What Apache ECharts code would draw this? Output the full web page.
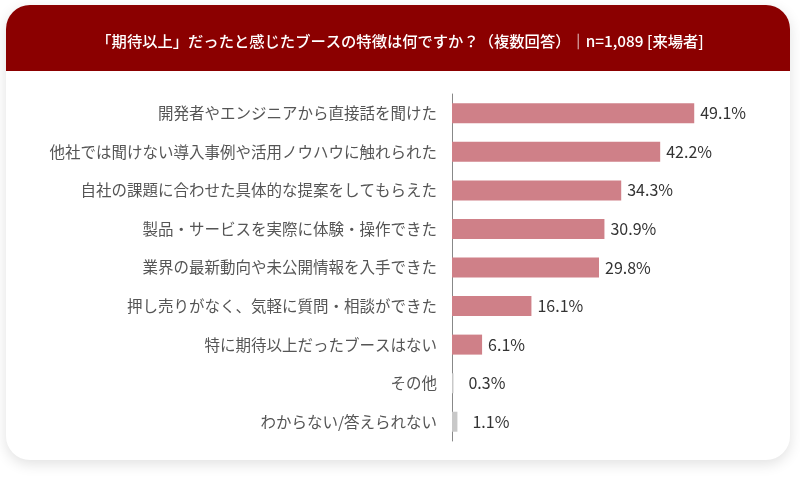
<!DOCTYPE html>
<html><head><meta charset="utf-8">
<script src="https://cdn.jsdelivr.net/npm/echarts@6/dist/echarts.min.js"></script>
<style>html,body{margin:0;padding:0;background:#fff}#c{width:800px;height:479px}</style>
</head><body><div id="c"></div>
<script>
const titleText = '「期待以上」だったと感じたブースの特徴は何ですか？（複数回答）｜n=1,089 [来場者]';
const categories = [
  '開発者やエンジニアから直接話を聞けた',
  '他社では聞けない導入事例や活用ノウハウに触れられた',
  '自社の課題に合わせた具体的な提案をしてもらえた',
  '製品・サービスを実際に体験・操作できた',
  '業界の最新動向や未公開情報を入手できた',
  '押し売りがなく、気軽に質問・相談ができた',
  '特に期待以上だったブースはない',
  'その他',
  'わからない/答えられない'
];
const values = [49.1, 42.2, 34.3, 30.9, 29.8, 16.1, 6.1, 0.3, 1.1];
const barColors = ['#cf8088','#cf8088','#cf8088','#cf8088','#cf8088','#cf8088','#cf8088','#c8c8c8','#c8c8c8'];

const FONT = '"Noto Sans CJK JP", "Noto Sans", sans-serif';
const chart = echarts.init(document.getElementById('c'));
chart.setOption({
  animation: false,
  textStyle: { fontFamily: FONT },
  graphic: [
    { type: 'rect', z: -10, shape: { x: 6, y: 5, width: 784, height: 455, r: 24 },
      style: { fill: '#fff', shadowBlur: 14, shadowColor: 'rgba(0,0,0,0.12)', shadowOffsetY: 4 } },
    { type: 'rect', z: -9, shape: { x: 6, y: 5, width: 784, height: 66, r: [24, 24, 0, 0] },
      style: { fill: '#8b0000' } }
  ],
  title: {
    text: titleText, left: 'center', top: 29,
    textStyle: { color: '#fff', fontSize: 15.3, fontWeight: 500, fontFamily: FONT }
  },
  grid: { left: 452, top: 94, width: 296, height: 347, containLabel: false },
  xAxis: { type: 'value', min: 0, max: 60, show: false },
  yAxis: {
    type: 'category', data: categories, inverse: true,
    axisLine: { show: true, lineStyle: { color: '#888', width: 1 } },
    axisTick: { show: false },
    axisLabel: { color: '#555', fontSize: 15.5, margin: 15, fontFamily: FONT }
  },
  series: [{
    type: 'bar', barWidth: 20,
    data: values.map((v, i) => ({
      value: v, itemStyle: { color: barColors[i] },
      label: { distance: v < 2 ? 15 : 6 }
    })),
    label: { show: true, position: 'right', color: '#333', fontSize: 16,
      fontFamily: FONT, formatter: p => p.value.toFixed(1) + '%' }
  }]
});
</script></body></html>
